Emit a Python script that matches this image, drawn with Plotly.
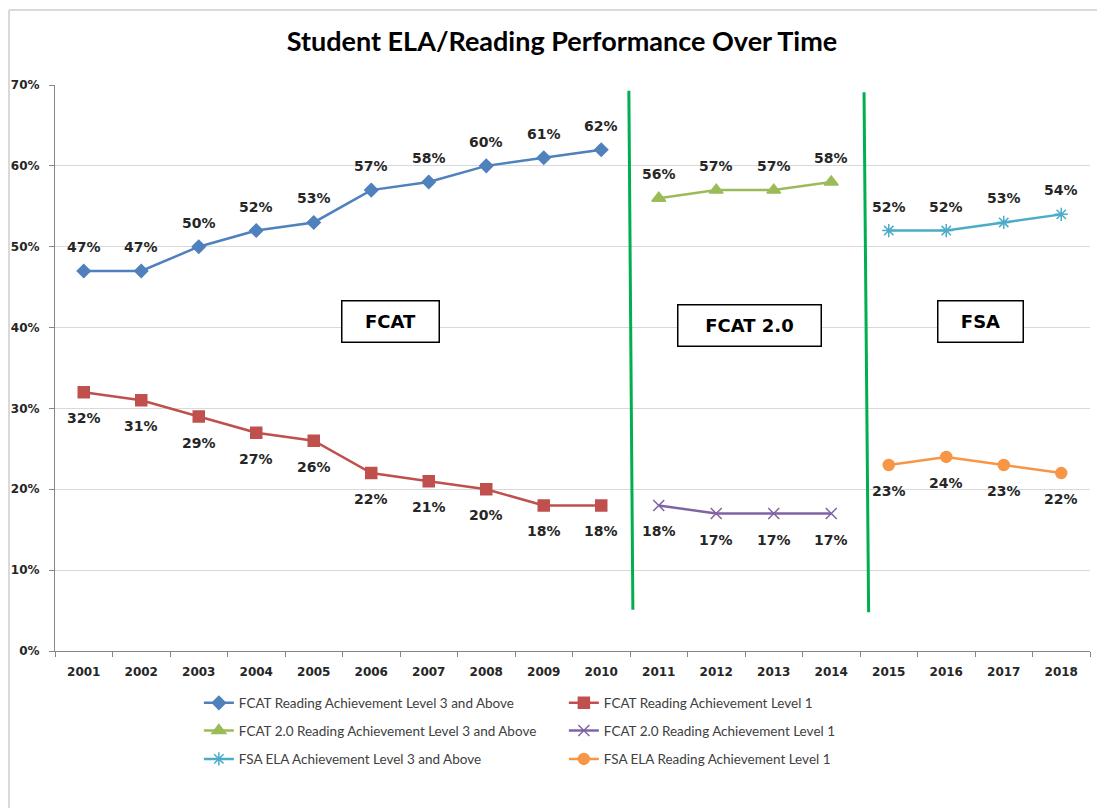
import plotly.graph_objects as go

years = [str(y) for y in range(2001, 2019)]

fcat_years = years[0:10]
fcat_l3 = [47, 47, 50, 52, 53, 57, 58, 60, 61, 62]
fcat_l1 = [32, 31, 29, 27, 26, 22, 21, 20, 18, 18]

fcat2_years = years[10:14]
fcat2_l3 = [56, 57, 57, 58]
fcat2_l1 = [18, 17, 17, 17]

fsa_years = years[14:18]
fsa_l3 = [52, 52, 53, 54]
fsa_l1 = [23, 24, 23, 22]

y_ticks = [0, 10, 20, 30, 40, 50, 60, 70]

series = [
    dict(name="FCAT Reading Achievement Level 3 and Above", x=fcat_years, y=fcat_l3,
         color="#4F81BD", symbol="diamond", size=10, legend="legend", up=True),
    dict(name="FCAT Reading Achievement Level 1", x=fcat_years, y=fcat_l1,
         color="#C0504D", symbol="square", size=11, legend="legend", up=False),
    dict(name="FCAT 2.0 Reading Achievement Level 3 and Above", x=fcat2_years, y=fcat2_l3,
         color="#9BBB59", symbol="triangle-up", size=12, legend="legend2", up=True),
    dict(name="FCAT 2.0 Reading Achievement Level 1", x=fcat2_years, y=fcat2_l1,
         color="#8064A2", symbol="x-thin-open", size=11, legend="legend2", up=False),
    dict(name="FSA ELA Achievement Level 3 and Above", x=fsa_years, y=fsa_l3,
         color="#4BACC6", symbol="asterisk-open", size=11, legend="legend3", up=True),
    dict(name="FSA ELA Reading Achievement Level 1", x=fsa_years, y=fsa_l1,
         color="#F79646", symbol="circle", size=11, legend="legend3", up=False),
]

fig = go.Figure()
annotations = []
for s in series:
    fig.add_trace(go.Scatter(
        x=s["x"], y=s["y"], name=s["name"], mode="lines+markers",
        line=dict(color=s["color"], width=2.5),
        marker=dict(symbol=s["symbol"], size=s["size"], color=s["color"],
                    line=dict(color=s["color"], width=1.5)),
        legend=s["legend"],
    ))
    for xv, yv in zip(s["x"], s["y"]):
        annotations.append(dict(
            x=years.index(xv), y=yv, xref="x", yref="y", text=f"{yv}%", showarrow=False,
            yshift=24 if s["up"] else -26,
            font=dict(family="DejaVu Sans", size=14, color="#262626", weight="bold"),
        ))

# era boxes
for label, xc, yc, w in [("FCAT", 5.34, 40.7, 96), ("FCAT 2.0", 11.58, 40.3, 142), ("FSA", 15.6, 40.7, 84)]:
    annotations.append(dict(
        x=xc, y=yc, xref="x", yref="y", text=label, showarrow=False,
        font=dict(family="DejaVu Sans", size=18, color="#000000", weight="bold"),
        bordercolor="#000000", borderwidth=1.5, bgcolor="#FFFFFF",
        width=w, height=40, borderpad=0,
    ))

shapes = [
    dict(type="line", xref="x", yref="y", x0=9.48, x1=9.55, y0=69.3, y1=5.1,
         line=dict(color="#00B050", width=3)),
    dict(type="line", xref="x", yref="y", x0=13.57, x1=13.65, y0=69.1, y1=4.8,
         line=dict(color="#00B050", width=3)),
    # outer frame
    dict(type="line", xref="paper", yref="paper", x0=-0.0444, x1=1.02, y0=1.1325, y1=1.1325,
         line=dict(color="#D9D9D9", width=2)),
    dict(type="line", xref="paper", yref="paper", x0=-0.0444, x1=-0.0444, y0=1.1325, y1=-0.3,
         line=dict(color="#D9D9D9", width=2)),
]

legend_common = dict(orientation="h", entrywidth=320, xanchor="left", yanchor="middle",
                     font=dict(family="Lato", size=13.5, color="#404040"),
                     bgcolor="rgba(0,0,0,0)", itemclick=False)

fig.update_layout(
    width=1097, height=800,
    margin=dict(l=47, r=15, t=77, b=157, autoexpand=False),
    paper_bgcolor="#FFFFFF", plot_bgcolor="#FFFFFF",
    title=dict(text="<b>Student ELA/Reading Performance Over Time</b>", x=0.505, xanchor="center",
               y=0.9575, yanchor="middle",
               font=dict(family="Lato", size=27, color="#000000")),
    xaxis=dict(type="category", categoryorder="array", categoryarray=years,
               range=[-0.5, 17.5], tickson="boundaries", ticks="outside", ticklen=5,
               tickcolor="#868686", showline=True, linecolor="#868686", linewidth=1,
               showgrid=False, zeroline=False, ticklabelstandoff=10, automargin=False,
               tickfont=dict(family="DejaVu Sans", size=12, color="#262626", weight="bold")),
    yaxis=dict(range=[0, 70], tickvals=y_ticks, ticktext=[f"{t}%" for t in y_ticks],
               ticks="outside", ticklen=5, tickcolor="#868686", automargin=False,
               showline=True, linecolor="#868686", linewidth=1, ticklabelstandoff=7,
               showgrid=True, gridcolor="#D9D9D9", gridwidth=1, zeroline=False,
               tickfont=dict(family="DejaVu Sans", size=12, color="#262626", weight="bold")),
    legend=dict(x=0.139, y=-0.092, **legend_common),
    legend2=dict(x=0.139, y=-0.141, **legend_common),
    legend3=dict(x=0.139, y=-0.191, **legend_common),
    annotations=annotations,
    shapes=shapes,
    showlegend=True,
)

fig.write_html("out.html")
